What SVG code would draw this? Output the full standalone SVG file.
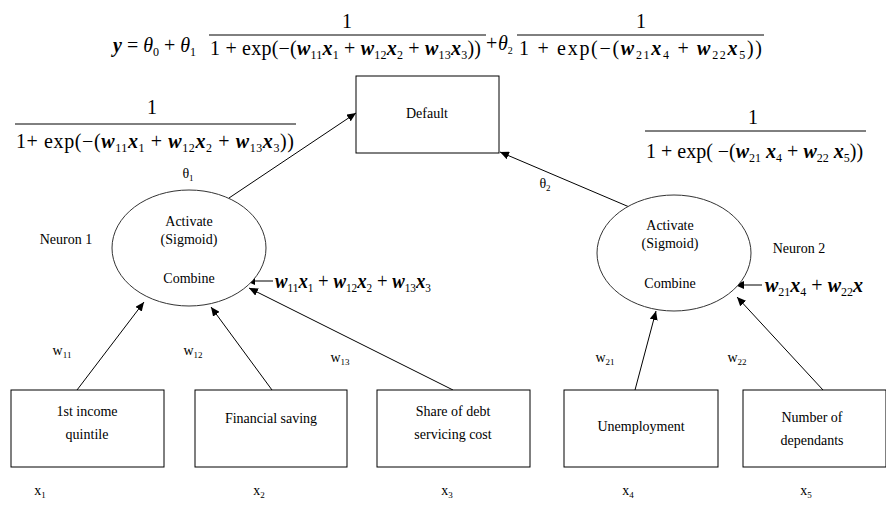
<svg xmlns="http://www.w3.org/2000/svg" width="886" height="516" viewBox="0 0 886 516">
<style>
  text{font-family:'Liberation Serif','DejaVu Serif',serif;fill:#000}
  .lbl{font-size:14px;text-anchor:middle}
  .eq{font-size:20px}
  .bi{font-weight:bold;font-style:italic}
  .it{font-style:italic}
  .sub{font-size:12px}
  .box{fill:#fff;stroke:#000;stroke-width:1}
  .ell{fill:#fff;stroke:#333;stroke-width:1}
  .con{stroke:#000;stroke-width:1;fill:none;marker-end:url(#ah)}
  .bar{stroke:#000;stroke-width:1}
</style>
<defs>
  <marker id="ah" markerUnits="userSpaceOnUse" markerWidth="10" markerHeight="8" refX="9" refY="4" orient="auto">
    <path d="M0,0 L9,4 L0,8 z" fill="#000"/>
  </marker>
</defs>
<rect width="886" height="516" fill="#fff"/>

<g id="equation">
  <text class="eq" x="113" y="52" font-size="21"><tspan class="bi">y</tspan> = <tspan class="it">θ</tspan><tspan class="sub" dy="4">0</tspan><tspan dy="-4"> + </tspan><tspan class="it">θ</tspan><tspan class="sub" dy="4">1</tspan></text>
  <text class="eq" x="347" y="28" text-anchor="middle">1</text>
  <line class="bar" x1="209" y1="35" x2="486" y2="35"/>
  <text class="eq" x="210" y="55" textLength="271" lengthAdjust="spacing">1 + exp(−(<tspan class="bi">w</tspan><tspan class="sub" dy="4">11</tspan><tspan class="bi" dy="-4">x</tspan><tspan class="sub" dy="4">1</tspan><tspan dy="-4"> + </tspan><tspan class="bi">w</tspan><tspan class="sub" dy="4">12</tspan><tspan class="bi" dy="-4">x</tspan><tspan class="sub" dy="4">2</tspan><tspan dy="-4"> + </tspan><tspan class="bi">w</tspan><tspan class="sub" dy="4">13</tspan><tspan class="bi" dy="-4">x</tspan><tspan class="sub" dy="4">3</tspan><tspan dy="-4">))</tspan></text>
  <text class="eq" x="486" y="50" font-size="18">+</text>
  <text class="eq" x="498" y="50" font-size="18"><tspan class="it">θ</tspan><tspan font-size="10" dy="4">2</tspan></text>
  <text class="eq" x="641" y="28" text-anchor="middle">1</text>
  <line class="bar" x1="517" y1="35" x2="764" y2="35"/>
  <text class="eq" x="519" y="55" textLength="243" lengthAdjust="spacing">1 + exp(−(<tspan class="bi">w</tspan><tspan class="sub" dy="4">21</tspan><tspan class="bi" dy="-4">x</tspan><tspan class="sub" dy="4">4</tspan><tspan dy="-4"> + </tspan><tspan class="bi">w</tspan><tspan class="sub" dy="4">22</tspan><tspan class="bi" dy="-4">x</tspan><tspan class="sub" dy="4">5</tspan><tspan dy="-4">))</tspan></text>
</g>

<g id="formula1">
  <text class="eq" x="152" y="114" text-anchor="middle" font-size="21">1</text>
  <line class="bar" x1="15" y1="124" x2="296" y2="124"/>
  <text class="eq" x="16" y="148" font-size="21" textLength="278" lengthAdjust="spacing">1+ exp(−(<tspan class="bi">w</tspan><tspan class="sub" dy="4">11</tspan><tspan class="bi" dy="-4">x</tspan><tspan class="sub" dy="4">1</tspan><tspan dy="-4"> + </tspan><tspan class="bi">w</tspan><tspan class="sub" dy="4">12</tspan><tspan class="bi" dy="-4">x</tspan><tspan class="sub" dy="4">2</tspan><tspan dy="-4"> + </tspan><tspan class="bi">w</tspan><tspan class="sub" dy="4">13</tspan><tspan class="bi" dy="-4">x</tspan><tspan class="sub" dy="4">3</tspan><tspan dy="-4">))</tspan></text>
</g>

<g id="formula2">
  <text class="eq" x="753" y="124" text-anchor="middle">1</text>
  <line class="bar" x1="645" y1="131" x2="866" y2="131"/>
  <text class="eq" x="646" y="158">1 + exp( −(<tspan class="bi">w</tspan><tspan class="sub" dy="4">21</tspan><tspan class="bi" dy="-4"> x</tspan><tspan class="sub" dy="4">4</tspan><tspan dy="-4"> + </tspan><tspan class="bi">w</tspan><tspan class="sub" dy="4">22</tspan><tspan class="bi" dy="-4"> x</tspan><tspan class="sub" dy="4">5</tspan><tspan dy="-4">))</tspan></text>
</g>

<g id="connectors">
  <line class="con" x1="229" y1="198" x2="356" y2="113"/>
  <line class="con" x1="634" y1="209" x2="500" y2="152"/>
  <line class="con" x1="77" y1="390" x2="144" y2="302"/>
  <line class="con" x1="272" y1="390" x2="211" y2="307"/>
  <line class="con" x1="453" y1="390" x2="249" y2="288"/>
  <line class="con" x1="635" y1="390" x2="656" y2="311"/>
  <line class="con" x1="823" y1="390" x2="737" y2="297" stroke-width="1.5"/>
  <line class="con" x1="273" y1="281" x2="246" y2="281"/>
  <line class="con" x1="762" y1="285" x2="735" y2="285"/>
</g>

<g id="default">
  <rect class="box" x="356" y="76" width="143" height="77"/>
  <text class="lbl" x="427" y="118">Default</text>
</g>

<g id="neuron1">
  <ellipse class="ell" cx="189" cy="248" rx="77" ry="58"/>
  <text class="lbl" x="189" y="226">Activate</text>
  <text class="lbl" x="189" y="244">(Sigmoid)</text>
  <text class="lbl" x="189" y="283">Combine</text>
  <text class="lbl" x="66" y="244">Neuron 1</text>
  <text class="lbl" x="188" y="178">θ<tspan font-size="9" dy="3">1</tspan></text>
</g>

<g id="neuron2">
  <ellipse class="ell" cx="674" cy="253" rx="77" ry="58"/>
  <text class="lbl" x="670" y="230">Activate</text>
  <text class="lbl" x="670" y="248">(Sigmoid)</text>
  <text class="lbl" x="670" y="288">Combine</text>
  <text class="lbl" x="799" y="253">Neuron 2</text>
  <text class="lbl" x="545" y="188">θ<tspan font-size="9" dy="3">2</tspan></text>
</g>

<g id="combine1">
  <text class="eq" x="275" y="288" font-size="17" textLength="156" lengthAdjust="spacingAndGlyphs"><tspan class="bi">w</tspan><tspan class="sub" dy="4">11</tspan><tspan class="bi" dy="-4">x</tspan><tspan class="sub" dy="4">1</tspan><tspan dy="-4"> + </tspan><tspan class="bi">w</tspan><tspan class="sub" dy="4">12</tspan><tspan class="bi" dy="-4">x</tspan><tspan class="sub" dy="4">2</tspan><tspan dy="-4"> + </tspan><tspan class="bi">w</tspan><tspan class="sub" dy="4">13</tspan><tspan class="bi" dy="-4">x</tspan><tspan class="sub" dy="4">3</tspan></text>
</g>
<g id="combine2">
  <text class="eq" x="765" y="292" font-size="20"><tspan class="bi">w</tspan><tspan class="sub" dy="4">21</tspan><tspan class="bi" dy="-4">x</tspan><tspan class="sub" dy="4">4</tspan><tspan dy="-4"> + </tspan><tspan class="bi">w</tspan><tspan class="sub" dy="4">22</tspan><tspan class="bi" dy="-4">x</tspan></text>
</g>

<g id="weights">
  <text class="lbl" x="62" y="355">w<tspan font-size="9" dy="3">11</tspan></text>
  <text class="lbl" x="193" y="355">w<tspan font-size="9" dy="3">12</tspan></text>
  <text class="lbl" x="340" y="362">w<tspan font-size="9" dy="3">13</tspan></text>
  <text class="lbl" x="605" y="362">w<tspan font-size="9" dy="3">21</tspan></text>
  <text class="lbl" x="737" y="362">w<tspan font-size="9" dy="3">22</tspan></text>
</g>

<g id="in1">
  <rect class="box" x="11" y="390" width="153" height="77"/>
  <text class="lbl" x="87" y="416">1st income</text>
  <text class="lbl" x="87" y="439">quintile</text>
</g>
<g id="in2">
  <rect class="box" x="195" y="390" width="152" height="77"/>
  <text class="lbl" x="271" y="423">Financial saving</text>
</g>
<g id="in3">
  <rect class="box" x="377" y="390" width="153" height="77"/>
  <text class="lbl" x="453" y="416">Share of debt</text>
  <text class="lbl" x="453" y="439">servicing cost</text>
</g>
<g id="in4">
  <rect class="box" x="564" y="390" width="154" height="77"/>
  <text class="lbl" x="641" y="431">Unemployment</text>
</g>
<g id="in5">
  <rect class="box" x="743" y="390" width="143" height="77"/>
  <text class="lbl" x="812" y="422">Number of</text>
  <text class="lbl" x="812" y="445">dependants</text>
</g>

<g id="xlabels">
  <text class="lbl" x="40" y="495">x<tspan font-size="9" dy="3">1</tspan></text>
  <text class="lbl" x="259" y="495">x<tspan font-size="9" dy="3">2</tspan></text>
  <text class="lbl" x="447" y="495">x<tspan font-size="9" dy="3">3</tspan></text>
  <text class="lbl" x="628" y="495">x<tspan font-size="9" dy="3">4</tspan></text>
  <text class="lbl" x="806" y="495">x<tspan font-size="9" dy="3">5</tspan></text>
</g>
</svg>
